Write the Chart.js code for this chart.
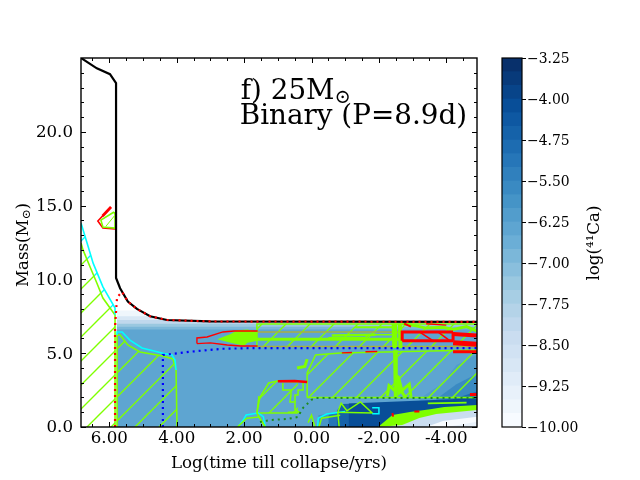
<!DOCTYPE html>
<html>
<head>
<meta charset="utf-8">
<style>
html,body{margin:0;padding:0;background:#fff;}
canvas{position:absolute;top:0;}
#main{left:0;}
#cbar{left:490px;}
</style>
<script src="https://cdn.jsdelivr.net/npm/chart.js@4/dist/chart.umd.js"></script>
</head>
<body>
<canvas id="main" width="490" height="480"></canvas>
<canvas id="cbar" width="150" height="480"></canvas>
<script>
// axis ticks
var xMajor = [6, 4, 2, 0, -2, -4];
var xMinor = [6.5, 5.5, 5, 4.5, 3.5, 3, 2.5, 1.5, 1, 0.5, -0.5, -1, -1.5, -2.5, -3, -3.5, -4.5];
var yMajor = [0, 5, 10, 15, 20];
var yMinor = [1, 2, 3, 4, 6, 7, 8, 9, 11, 12, 13, 14, 16, 17, 18, 19, 21, 22, 23, 24];

// colour bar
var cbLevels = [-10, -9.75, -9.5, -9.25, -9, -8.75, -8.5, -8.25, -8, -7.75, -7.5, -7.25, -7, -6.75, -6.5, -6.25, -6, -5.75, -5.5, -5.25, -5, -4.75, -4.5, -4.25, -4, -3.75, -3.5, -3.25];
var cbTicks = [-10, -9.25, -8.5, -7.75, -7, -6.25, -5.5, -4.75, -4, -3.25];
var blues = ['#f7fbff','#eff6fc','#e8f1fa','#e0ecf8','#d8e7f5','#d1e2f3','#caddf0','#c0d8ed','#b4d3e8','#a7cee4','#9ac8e0','#8abfdd','#7bb7d9','#6baed6','#5ea5d1','#529dcc','#4594c7','#3a8ac2','#3080bd','#2676b8','#1d6cb1','#1562a9','#0e58a2','#084e98','#084489','#083a7a','#08306b'];

// abundance bands, [log t, mass]
var bandTop1 = [[5.78,7.9],[5.18,7.9],[4.79,7.5],[4.29,7.25],[3,7.15],[-4.91,7.12]];
var bandTop2 = [[5.78,7.5],[4.79,7.5],[4.29,7.25],[3,7.15],[-4.91,7.12]];
var bandTop3 = [[5.78,7.25],[4.29,7.25],[3,7.12],[-4.91,7.1]];
var bandTop4 = [[5.78,7.0],[-4.91,7.0]];
var bandTop5 = [[5.78,6.8],[-4.91,6.8]];
var bandMain = [[5.78,6.6],[-4.91,6.6]];
var rightDark1 = [[-3.2,1.9],[-3.9,3.0],[-4.3,4.2],[-4.91,4.9]];
var rightDark2 = [[-3.7,1.9],[-4.3,2.9],[-4.91,3.6]];
var rightDark3 = [[-4.2,1.9],[-4.91,2.4]];
var nearZero1 = [[-0.2,0],[-0.2,0.8],[-0.85,1.0]];
var nearZero2 = [[-0.5,0],[-0.5,0.85],[-0.85,1.0]];
var coreBlue = [[-0.75,0],[-0.75,1.1],[-0.9,1.55],[-1.4,1.6]];
var coreNavy = [[-1.1,0],[-1.1,1.6],[-4.91,1.95]];

// under the burning front
var blobUnder = [[-1.97,0],[-2.69,0.14],[-3.2,0.61],[-3.7,0.88],[-4.91,1.15]];
var paleUnder1 = [[-3.4,0],[-3.9,0.4],[-4.91,0.7]];
var paleUnder2 = [[-4.0,0],[-4.91,0.35]];
var blobTop = [[-1.97,0],[-2.4,0.81],[-2.92,1.02],[-3.52,1.2],[-3.94,1.35],[-4.91,1.49]];

// convective zones
var convLeft = [[6.84,12.47],[6.78,12],[6.57,10.84],[6.37,9.76],[6.19,8.74],[5.83,7.59],[5.83,0]];
var cyanLeft = [[6.84,13.82],[6.66,12.47],[6.48,11.1],[6.19,9.49],[5.83,8.06],[5.83,7.6]];
var convSecond = [[5.77,0],[5.77,6.23],[5.68,6.23],[5.45,5.56],[5.09,5.08],[4.41,4.81],[4.11,4.61],[4.02,3.86],[3.99,0]];
var cyanSecond = [[5.77,6.23],[5.77,6.44],[5.62,6.44],[5.39,5.89],[5.03,5.35],[4.41,5],[4.14,4.88],[4.05,4.54],[4.02,3.86]];
var envTop = [[1.62,6.98],[-4.91,6.98]];
var envBottom = [[1.62,5.4],[-4.91,5.4]];
var envLine1 = [[1.62,6.44],[-2.7,6.44]];
var envLine2 = [[2.6,5.95],[-2.69,5.95]];
var envLine3 = [[1.62,5.45],[-4.91,5.45]];
var envBox = [[1.62,5.4],[1.62,6.98],[-4.91,6.98]];
var blobUpper = [[2.8,5.95],[2.4,6.3],[2.2,6.55],[1.9,6.6],[1.6,6.45]];
var blobLower = [[2.8,5.95],[2.4,5.7],[2,5.5],[1.9,5.7],[1.6,5.85]];
var redTipTop = [[3.4,5.65],[3.4,6.03],[3.1,6.1],[2.63,6.44],[2.3,6.5],[1.6,6.5]];
var redTipBottom = [[3.4,5.65],[3,5.7],[2.5,5.56],[2.1,5.49],[1.6,5.49]];
var bigZoneTop = [[0.13,2.0],[0.13,3.66],[-0.12,4.88],[-0.85,5.01],[-4.91,5.22]];
var bigZoneBottom = [[0.13,2.0],[-4.91,2.0]];
var midZoneTop = [[1.62,0.95],[1.53,2.03],[1.27,2.98],[1.02,3.12],[0.4,3.05]];
var midZoneBottom = [[1.62,0.95],[0.4,0.95]];
var midStairs = [[0.85,2.98],[0.85,2.5],[0.61,2.5],[0.61,2.17],[0.64,1.69],[0.49,1.69],[0.49,1.2],[0.37,1.02],[0.7,1.0]];
var midStairs2 = [[0.49,1.69],[0.49,2.17],[0.4,2.17],[0.4,2.5],[0.25,2.5],[0.25,2.98]];
var midFleck = [[0.43,4.0],[0.2,4.1],[0.13,4.6]];
var redMid = [[1.0,3.1],[0.5,3.12],[0.13,3.05]];
var smallCyan = [[2.18,0],[2.03,0.47],[1.94,0.81],[1.58,0.95],[1.43,0.7],[1.37,0]];
var smallLime = [[2.2,0],[1.92,0.6],[1.56,0.68],[1.37,0]];
var smallLine = [[1.56,2.1],[1.62,0.95],[1.38,0]];
var coreLime1 = [[0.1,0.3],[0,0.8],[-0.1,0]];
var coreLime2 = [[-0.22,0],[-0.3,0.6],[-0.85,0.8]];
var coreCyan = [[-0.18,0],[-0.2,0.6],[-0.45,0.88],[-0.85,1.0],[-1.0,1.05]];
var coreTri = [[-0.78,1.0],[-0.88,1.6],[-1.05,1.1],[-1.45,1.7],[-1.8,0.95],[-0.78,1.0]];
var coreCyanBox = [[-1.8,1.3],[-2.0,1.3],[-2.0,0.9],[-1.8,0.9]];
var coreEdge = [[-0.78,1.0],[-0.82,0]];
var limeBar = [[-3.45,1.6],[-4.6,1.65]];

// noise on the envelope
var limeColumn1 = [[-2.45,7],[-2.47,5.35]];
var limeColumn2 = [[-2.62,7],[-2.64,5.35]];
var limeColumn3 = [[-2.48,5.2],[-2.5,2]];
var limeBush1 = [[-2.25,2.1],[-2.3,2.8],[-2.45,2.5],[-2.6,3.2],[-2.7,2.3],[-2.8,2.0]];
var limeBush2 = [[-2.55,3.5],[-2.6,2.3],[-2.9,2.9],[-2.95,2.05]];
var limeTop = [[-2.7,7],[-3.1,6.85],[-3.4,6.7],[-3.9,6.75],[-4.2,6.6],[-4.6,6.8],[-4.91,6.5]];
var limeLeftTop = [[-1.3,6.75],[-2.4,6.75]];
var limeDash = [[-0.5,6.05],[-1.6,6.05],[-1.7,6.25],[-2.4,6.25]];
var limeFuzz = [[-0.6,6.2],[-1.9,6.25]];
var redFrame1 = [[-2.69,5.85],[-2.69,6.44],[-4.2,6.44]];
var redFrame2 = [[-2.69,5.85],[-4.2,5.85]];
var redFrame3 = [[-4.2,6.44],[-4.2,5.85]];
var redRight1 = [[-4.2,6.3],[-4.91,6.2]];
var redRight2 = [[-4.2,5.7],[-4.91,5.6]];
var redRight3 = [[-4.2,5.1],[-4.91,5.1]];
var redDiag1 = [[-3.2,6.44],[-3.6,5.85]];
var redDiag2 = [[-3.75,6.44],[-4.1,5.85]];
var redTop = [[-2.75,7],[-2.95,6.8]];
var redTop2 = [[-3.4,7],[-4.0,6.9]];
var redFleck1 = [[-0.9,5.02],[-1.2,5.05]];
var redFleck2 = [[-1.6,5.1],[-1.95,5.12]];
var redSpot1 = [[-4.7,2.2],[-4.91,2.2]];
var redSpot2 = [[-3.05,1.05],[-3.2,1.05]];
var redSpot3 = [[-2.4,0.95],[-2.42,0.7]];

// small loop near 14 Msun
var loopRed = [[5.95,14.9],[6.34,13.96],[6.19,13.48],[5.83,13.41]];
var loopRedTop = [[5.95,14.9],[6.2,14.3]];
var loopLime = [[5.86,14.57],[6.25,14.02],[6.19,13.55],[5.83,13.48],[5.83,14.4],[5.86,14.57]];
var loopHatch = [[6.1,13.6],[5.85,14.3]];

// boundaries
var totalMass = [[6.84,25],[6.37,24.3],[5.98,23.9],[5.8,23.3],[5.8,10.1],[5.68,9.4],[5.45,8.5],[5.18,8],[4.79,7.5],[4.29,7.25],[3,7.15],[-4.91,7.12]];
var redDots = [[5.83,0],[5.83,6.8],[5.77,8.8],[5.62,9.15],[5.45,8.5],[5.18,8],[4.79,7.5],[4.29,7.25],[3,7.15],[-4.91,7.12]];
var blueDots = [[4.41,0],[4.41,4.88],[3.61,5.1],[2.63,5.3],[1.62,5.35],[-4.91,5.35]];
var greenDots = [[1.53,0.34],[1.23,0.47],[0.73,0.54],[0.4,0.68],[0.34,0.95],[0.25,1.3],[0.13,1.56],[0.01,1.83],[-0.1,1.96],[-4.91,1.96]];

var LIME = '#7fff00', CYAN = '#00ffff', RED = '#ff0000', OLIVE = '#a8b040';

function hatch(color) {
  var c = document.createElement('canvas');
  c.width = 24; c.height = 24;
  var g = c.getContext('2d');
  g.strokeStyle = color;
  g.lineWidth = 1.4;
  g.beginPath();
  g.moveTo(-6, 16); g.lineTo(16, -6);
  g.moveTo(4, 30); g.lineTo(30, 4);
  g.stroke();
  return g.createPattern(c, 'repeat');
}
var limeHatch = hatch(LIME), cyanHatch = hatch(CYAN);

var sets = [];
function line(pts, color, width, dash) {
  sets.push({data: pts, showLine: true, pointRadius: 0, borderColor: color, borderWidth: width, borderDash: dash || [], tension: 0, fill: false});
}
function area(pts, fillStyle) {
  sets.push({data: pts, showLine: true, pointRadius: 0, borderWidth: 0, borderColor: 'transparent', backgroundColor: fillStyle, tension: 0, fill: 'origin'});
}
function between(top, bottom, fillStyle) {
  sets.push({data: bottom, showLine: true, pointRadius: 0, borderWidth: 0, borderColor: 'transparent', tension: 0, fill: false});
  sets.push({data: top, showLine: true, pointRadius: 0, borderWidth: 0, borderColor: 'transparent', backgroundColor: fillStyle, tension: 0, fill: sets.length - 1});
}

area(bandTop1, blues[1]);
area(bandTop2, blues[4]);
area(bandTop3, blues[7]);
area(bandTop4, blues[10]);
area(bandTop5, blues[12]);
area(bandMain, blues[14]);
area(rightDark1, blues[15]);
area(rightDark2, blues[17]);
area(rightDark3, blues[20]);
area(nearZero1, blues[16]);
area(nearZero2, blues[19]);
area(coreBlue, blues[21]);
area(coreNavy, blues[23]);
area(blobTop, LIME);
area(blobUnder, blues[6]);
area(paleUnder1, blues[0]);
area(paleUnder2, blues[2]);

area(convLeft, limeHatch);
between(cyanLeft, convLeft, cyanHatch);
area(convSecond, limeHatch);
between(envTop, envBottom, limeHatch);
between(bigZoneTop, bigZoneBottom, limeHatch);
between(midZoneTop, midZoneBottom, limeHatch);
between(blobUpper, blobLower, LIME);

line(envLine1, OLIVE, 1.4);
line(envLine2, LIME, 3);
line(envLine3, OLIVE, 1.4);
line(envBox, LIME, 1.5);
line(convLeft, LIME, 1.6);
line(cyanLeft, CYAN, 1.6);
line(convSecond, LIME, 1.6);
line(cyanSecond, CYAN, 1.6);
line(bigZoneTop, LIME, 1.5);
line(bigZoneBottom, LIME, 1.5);
line(midZoneTop, LIME, 1.5);
line(midZoneBottom, LIME, 1.5);
line(midStairs, LIME, 1.5);
line(midStairs2, LIME, 1.5);
line(midFleck, LIME, 3);
line(smallCyan, CYAN, 1.5);
line(smallLime, LIME, 1.5);
line(smallLine, LIME, 1.5);
line(coreCyan, CYAN, 1.5);
line(coreLime1, LIME, 1.5);
line(coreLime2, LIME, 1.5);
line(coreTri, LIME, 1.5);
line(coreCyanBox, CYAN, 1.5);
line(coreEdge, LIME, 1.5);
line(limeBar, LIME, 1.6);
line(limeColumn1, LIME, 5);
line(limeColumn2, LIME, 4);
line(limeColumn3, LIME, 4);
line(limeBush1, LIME, 3);
line(limeBush2, LIME, 3);
line(limeTop, LIME, 3);
line(limeLeftTop, LIME, 2);
line(limeDash, LIME, 1.6);
line(limeFuzz, LIME, 2.5);
line(redMid, RED, 2.6);
line(redTipTop, RED, 1.4);
line(redTipBottom, RED, 1.4);
line(redFrame1, RED, 3);
line(redFrame2, RED, 3);
line(redFrame3, RED, 3);
line(redRight1, RED, 4);
line(redRight2, RED, 5);
line(redRight3, RED, 3);
line(redDiag1, RED, 1.6);
line(redDiag2, RED, 1.6);
line(redTop, RED, 2);
line(redTop2, RED, 1.4);
line(redFleck1, RED, 1.4);
line(redFleck2, RED, 1.4);
line(redSpot1, RED, 3);
line(redSpot2, RED, 2);
line(redSpot3, RED, 2);
line(loopRed, RED, 1.6);
line(loopRedTop, RED, 2.8);
line(loopLime, LIME, 1.6);
line(loopHatch, LIME, 1);
line(greenDots, '#1e8b1e', 2, [2, 4]);
line(blueDots, '#0000ff', 2.2, [2, 4]);
line(totalMass, '#000', 2.2);
line(redDots, RED, 2.2, [2, 4]);

// first dataset sits on the bottom
sets.forEach(function(d, i) { d.order = sets.length - i; });

var frameTicks = {
  id: 'frameTicks',
  afterDatasetsDraw: function(chart) {
    var c = chart.ctx, a = chart.chartArea, sx = chart.scales.x, sy = chart.scales.y;
    c.save();
    c.strokeStyle = '#000';
    c.lineWidth = 1;
    function tx(list, len) {
      list.forEach(function(v) {
        var p = Math.round(sx.getPixelForValue(v)) + 0.5;
        c.beginPath();
        c.moveTo(p, a.bottom); c.lineTo(p, a.bottom - len);
        c.moveTo(p, a.top); c.lineTo(p, a.top + len);
        c.stroke();
      });
    }
    function ty(list, len) {
      list.forEach(function(v) {
        var p = Math.round(sy.getPixelForValue(v)) + 0.5;
        c.beginPath();
        c.moveTo(a.left, p); c.lineTo(a.left + len, p);
        c.moveTo(a.right, p); c.lineTo(a.right - len, p);
        c.stroke();
      });
    }
    tx(xMajor, 5); tx(xMinor, 3);
    ty(yMajor, 5); ty(yMinor, 3);
    c.lineWidth = 1.4;
    c.strokeRect(a.left, a.top, a.right - a.left, a.bottom - a.top);

    // panel label
    c.fillStyle = '#000';
    c.textBaseline = 'alphabetic';
    c.font = '27.8px "DejaVu Serif"';
    var x0 = sx.getPixelForValue(2.1);
    var y1 = sy.getPixelForValue(22.2), y2 = sy.getPixelForValue(20.5);
    c.fillText('f) 25M', x0, y1);
    var w = c.measureText('f) 25M').width;
    c.fillText('Binary (P=8.9d)', x0 - 1, y2);
    c.font = '19.5px "DejaVu Serif"';
    c.fillText('\u2299', x0 + w, y1 + 4);

    // y title with its subscript
    c.translate(28, 245);
    c.rotate(-Math.PI / 2);
    c.font = '16.67px "DejaVu Serif"';
    var t1 = 'Mass(M', t2 = ')';
    var w1 = c.measureText(t1).width;
    c.font = '11.7px "DejaVu Serif"';
    var w2 = c.measureText('\u2299').width;
    c.font = '16.67px "DejaVu Serif"';
    var w3 = c.measureText(t2).width;
    var s = -(w1 + w2 + w3) / 2;
    c.fillText(t1, s, 0);
    c.fillText(t2, s + w1 + w2, 0);
    c.font = '11.7px "DejaVu Serif"';
    c.fillText('\u2299', s + w1, 2);
    c.restore();
  }
};

new Chart(document.getElementById('main'), {
  type: 'scatter',
  data: {datasets: sets},
  plugins: [frameTicks],
  options: {
    responsive: false,
    animation: false,
    layout: {padding: {left: 0, right: 13, top: 58, bottom: 0}},
    plugins: {legend: {display: false}, tooltip: {enabled: false}},
    scales: {
      x: {
        type: 'linear', reverse: true, min: -4.91, max: 6.84,
        grid: {display: false, drawTicks: false}, border: {display: false},
        afterBuildTicks: function(s) { s.ticks = xMajor.map(function(v) { return {value: v}; }); },
        afterFit: function(s) { s.height = 53; },
        ticks: {
          autoSkip: false, maxRotation: 0, padding: 2, color: '#000',
          font: {family: 'DejaVu Serif', size: 16.67},
          callback: function(v) { return v.toFixed(2); }
        },
        title: {display: true, text: 'Log(time till collapse/yrs)', color: '#000', padding: {top: 3, bottom: 6}, font: {family: 'DejaVu Serif', size: 16.67}}
      },
      y: {
        type: 'linear', min: 0, max: 25,
        grid: {display: false, drawTicks: false}, border: {display: false},
        afterBuildTicks: function(s) { s.ticks = yMajor.map(function(v) { return {value: v}; }); },
        afterFit: function(s) { s.width = 81; },
        ticks: {
          autoSkip: false, padding: 8, labelOffset: 1, color: '#000',
          font: {family: 'DejaVu Serif', size: 16.67},
          callback: function(v) { return v.toFixed(1); }
        }
      }
    }
  }
});

var cbFrame = {
  id: 'cbFrame',
  afterDatasetsDraw: function(chart) {
    var c = chart.ctx, a = chart.chartArea;
    c.save();
    c.strokeStyle = '#000';
    c.lineWidth = 1.2;
    c.strokeRect(a.left, a.top, a.right - a.left, a.bottom - a.top);
    c.translate(109, 243);
    c.rotate(-Math.PI / 2);
    c.fillStyle = '#000';
    c.font = '16.67px "DejaVu Serif"';
    c.textAlign = 'center';
    c.fillText('log(\u2074\u00b9Ca)', 0, 0);
    c.restore();
  }
};

var cbSets = blues.map(function(col, i) {
  return {data: [[cbLevels[i], cbLevels[i + 1]]], backgroundColor: col, barPercentage: 1, categoryPercentage: 1, grouped: false};
});

new Chart(document.getElementById('cbar'), {
  type: 'bar',
  data: {labels: [''], datasets: cbSets},
  plugins: [cbFrame],
  options: {
    responsive: false,
    animation: false,
    layout: {padding: {left: 12, right: 0, top: 58, bottom: 53}},
    plugins: {legend: {display: false}, tooltip: {enabled: false}},
    scales: {
      x: {display: false},
      y: {
        position: 'right', min: -10, max: -3.25,
        grid: {drawOnChartArea: false, drawTicks: true, tickLength: 4, color: '#000'},
        border: {display: false},
        afterBuildTicks: function(s) { s.ticks = cbTicks.map(function(v) { return {value: v}; }); },
        afterFit: function(s) { s.width = 118; },
        ticks: {
          autoSkip: false, padding: 1, labelOffset: 1, color: '#000',
          font: {family: 'DejaVu Serif', size: 13.9},
          callback: function(v) { return '\u2212' + Math.abs(v).toFixed(2); }
        }
      }
    }
  }
});
</script>
</body>
</html>
